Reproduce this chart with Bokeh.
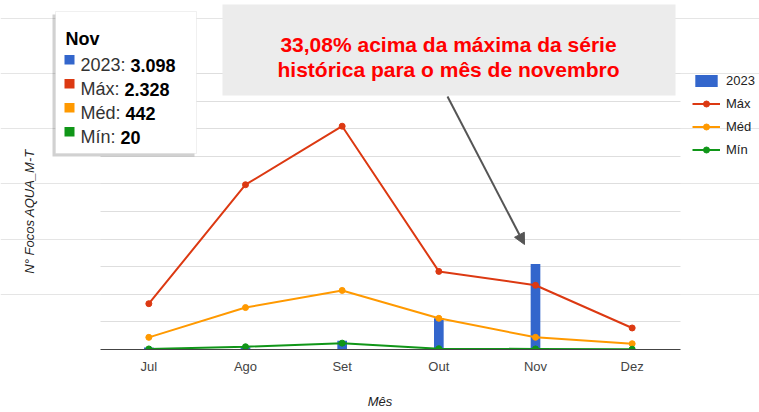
import math
import numpy as np
from bokeh.plotting import figure
from bokeh.models import (Range1d, Label, BoxAnnotation, Arrow, NormalHead, Grid, FixedTicker,
                          Legend, LegendItem, SingleIntervalTicker, ColumnDataSource)
from bokeh.embed import file_html
from bokeh.resources import INLINE

# ---- data ----
months = ["Jul", "Ago", "Set", "Out", "Nov", "Dez"]
focos_2023 = [70, 80, 320, 1130, 3098, np.nan]
focos_max = [1660, 5970, 8090, 2830, 2328, 780]
focos_med = [440, 1520, 2140, 1130, 442, 210]
focos_min = [20, 100, 230, 30, 20, 10]
y_max_axis = 10000
y_step = 1000

tooltip_month = "Nov"
tooltip_rows = [("2023", "3.098"), ("Máx", "2.328"), ("Méd", "442"), ("Mín", "20")]
annot_lines = ["33,08% acima da máxima da série", "histórica para o mês de novembro"]

C_2023, C_MAX, C_MED, C_MIN = "#3366cc", "#dc3912", "#ff9900", "#109618"
FONT = "Liberation Sans"

W_PX, H_PX = 759, 412
PLOT_L, PLOT_R, PLOT_T, PLOT_B = 100, 680, 73, 349   # chart area in page pixels
FRAME_B = PLOT_B

idx = list(range(len(months)))
src = ColumnDataSource(dict(x=idx, y23=focos_2023, ymax=focos_max, ymed=focos_med, ymin=focos_min))

# ranges so that the chart area lands where the reference has it; frame fills the page above the x axis
cat_w = (PLOT_R - PLOT_L) / len(months)
x_start = -0.5 - PLOT_L / cat_w
x_end = x_start + W_PX / cat_w
px_per_unit = (PLOT_B - PLOT_T) / y_max_axis
y_end = PLOT_B / px_per_unit

p = figure(width=W_PX, height=H_PX, x_range=Range1d(x_start, x_end), y_range=Range1d(0, y_end),
           output_backend="svg", toolbar_location=None, y_axis_location=None,
           min_border_left=0, min_border_right=0, min_border_top=0, min_border_bottom=H_PX - FRAME_B)
p.outline_line_color = None
p.background_fill_color = "white"
p.border_fill_color = "white"
p.xgrid.visible = False

p.add_layout(Grid(dimension=1, ticker=SingleIntervalTicker(interval=y_step), bounds=(0, y_max_axis),
                  cross_bounds=(-0.5, len(months) - 0.5), grid_line_color="#dedede", grid_line_width=1))

xa = p.xaxis[0]
xa.ticker = FixedTicker(ticks=idx)
xa.major_label_overrides = {i: m for i, m in zip(idx, months)}
xa.bounds = (-0.5, len(months) - 0.5)
xa.axis_line_color = "#444444"
xa.axis_line_width = 1
xa.major_tick_line_color = None
xa.minor_tick_line_color = None
xa.major_label_text_font = FONT
xa.major_label_text_font_size = "13px"
xa.major_label_text_color = "#444444"
xa.major_label_standoff = 3
xa.axis_label = "Mês"
xa.axis_label_text_font = FONT
xa.axis_label_text_font_size = "13px"
xa.axis_label_text_font_style = "italic"
xa.axis_label_text_color = "#222222"
xa.axis_label_standoff = 17

bars = p.vbar(x="x", top="y23", width=0.1, source=src, fill_color=C_2023, line_color=None)
lmax = p.line(x="x", y="ymax", source=src, line_color=C_MAX, line_width=2)
smax = p.scatter(x="x", y="ymax", source=src, size=6, fill_color=C_MAX, line_color=C_MAX)
lmed = p.line(x="x", y="ymed", source=src, line_color=C_MED, line_width=2)
smed = p.scatter(x="x", y="ymed", source=src, size=6, fill_color=C_MED, line_color=C_MED)
lmin = p.line(x="x", y="ymin", source=src, line_color=C_MIN, line_width=2)
smin = p.scatter(x="x", y="ymin", source=src, size=6, fill_color=C_MIN, line_color=C_MIN)

# screen coords relative to frame (x from left, y up from bottom)
def sx(img_x):
    return img_x

def sy(img_y):
    return FRAME_B - img_y

legend = Legend(items=[LegendItem(label="2023", renderers=[bars]),
                       LegendItem(label="Máx", renderers=[lmax, smax]),
                       LegendItem(label="Méd", renderers=[lmed, smed]),
                       LegendItem(label="Mín", renderers=[lmin, smin])],
                location=(sx(692), sy(73 + 84)), orientation="vertical",
                glyph_width=28, glyph_height=15, label_height=15, spacing=8,
                label_standoff=6, padding=0, margin=0,
                label_text_font=FONT, label_text_font_size="13px", label_text_color="#222222",
                border_line_color=None, background_fill_alpha=0)
p.add_layout(legend)

def screen_box(l, r, t, b, **kw):
    return BoxAnnotation(left=sx(l), right=sx(r), top=sy(t), bottom=sy(b),
                         left_units="screen", right_units="screen", top_units="screen", bottom_units="screen",
                         **kw)

# annotation box + text
p.add_layout(screen_box(222, 675, 4, 95, fill_color="#ececec", fill_alpha=1, line_color=None))
for i, t in enumerate(annot_lines):
    p.add_layout(Label(x=sx(448), y=sy(43.5 + 25 * i), x_units="screen", y_units="screen", text=t,
                       text_align="center", text_baseline="alphabetic", text_font=FONT,
                       text_font_size="21px", text_font_style="bold", text_color="#ff0000"))

p.add_layout(Arrow(x_start=sx(447), y_start=sy(96), x_end=sx(524), y_end=sy(244),
                   start_units="screen", end_units="screen",
                   line_color="#555555", line_width=2,
                   end=NormalHead(size=11, fill_color="#555555", line_color="#555555")))

# tooltip
p.add_layout(screen_box(52, 194, 14, 156, fill_color="#000000", fill_alpha=0.18, line_color=None))
p.add_layout(screen_box(55, 196, 11, 153, fill_color="white", fill_alpha=1, line_color="#cccccc", line_width=1))
p.add_layout(Label(x=sx(65), y=sy(38), x_units="screen", y_units="screen", text=tooltip_month,
                   text_align="left", text_baseline="alphabetic", text_font=FONT,
                   text_font_size="18px", text_font_style="bold", text_color="#000000"))
# approximate Arial widths (em) for placing the bold part after the label
W = {":": .278, " ": .278, "M": .833, "á": .556, "x": .5, "é": .556, "d": .556, "í": .278, "n": .556}
row_colors = [C_2023, C_MAX, C_MED, C_MIN]
for i, ((name, val), col) in enumerate(zip(tooltip_rows, row_colors)):
    base = 64.5 + 24 * i
    p.add_layout(screen_box(64, 74, base - 10, base - 0.5, fill_color=col, fill_alpha=1, line_color=None))
    lab = name + ": "
    p.add_layout(Label(x=sx(80), y=sy(base), x_units="screen", y_units="screen", text=lab,
                       text_align="left", text_baseline="alphabetic", text_font=FONT,
                       text_font_size="18px", text_color="#333333"))
    w = sum(W.get(c, .556) for c in lab) * 18
    p.add_layout(Label(x=sx(80 + w), y=sy(base), x_units="screen", y_units="screen", text=val,
                       text_align="left", text_baseline="alphabetic", text_font=FONT,
                       text_font_size="18px", text_font_style="bold", text_color="#000000"))

# y axis title
p.add_layout(Label(x=sx(29), y=sy(211), x_units="screen", y_units="screen", text="N° Focos AQUA_M-T",
                   angle=math.pi / 2, text_align="center", text_baseline="middle", text_font=FONT,
                   text_font_size="13px", text_font_style="italic", text_color="#222222"))

open("out.html", "w").write(file_html(p, INLINE))
